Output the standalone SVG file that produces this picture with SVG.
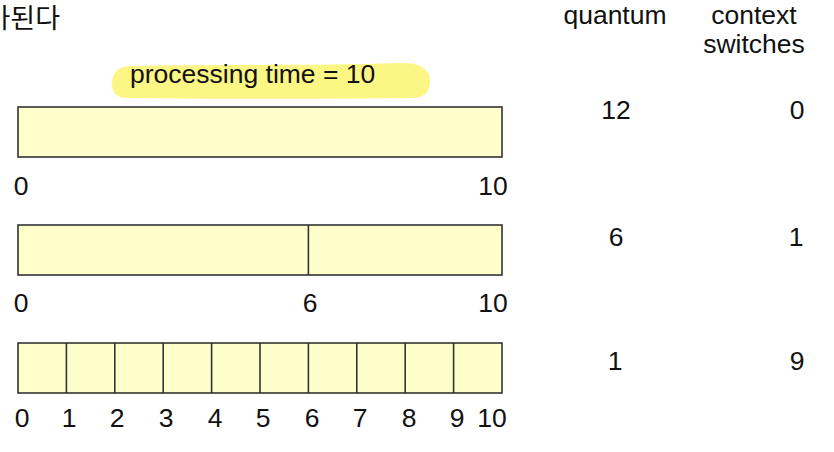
<svg xmlns="http://www.w3.org/2000/svg" width="834" height="452" viewBox="0 0 834 452">
<style>
text{font-family:"Liberation Sans","Noto Sans CJK KR",sans-serif;font-size:26.5px;fill:#111}
.c{text-anchor:middle}
.bar{fill:#ffffcc;stroke:#333;stroke-width:1.6}
.div{stroke:#333;stroke-width:1.6}
.hl{fill:#fcf684}
</style>
<rect width="834" height="452" fill="#fff"/>
<g id="heading">
<text x="-14.5" y="28" style="font-family:'Noto Sans CJK KR',sans-serif;font-size:27px">가된다</text>
</g>
<g id="header">
<text class="c" x="615" y="24">quantum</text>
<text class="c" x="754" y="24">context</text>
<text class="c" x="754" y="53">switches</text>
</g>
<g id="label">
<path class="hl" d="M112,84 C112,72 118,67 130,66 C200,64 320,66 400,63 C420,62 431,70 430,82 C429,94 424,98 410,98 C320,99 200,99 125,98 C116,97 112,92 112,84 Z"/>
<text x="130" y="83">processing time = 10</text>
</g>
<g id="row1">
<rect class="bar" x="18" y="107" width="484" height="50"/>
<text class="c" x="21" y="195">0</text>
<text class="c" x="493" y="195">10</text>
<text class="c" x="616" y="119">12</text>
<text class="c" x="797" y="119">0</text>
</g>
<g id="row2">
<rect class="bar" x="18" y="225" width="484" height="50"/>
<line class="div" x1="308.4" y1="225" x2="308.4" y2="275"/>
<text class="c" x="21" y="312">0</text>
<text class="c" x="310" y="312">6</text>
<text class="c" x="493" y="312">10</text>
<text class="c" x="616" y="246">6</text>
<text class="c" x="796" y="246">1</text>
</g>
<g id="row3">
<rect class="bar" x="18" y="343" width="484" height="50"/>
<g class="div">
<line x1="66.4" y1="343" x2="66.4" y2="393"/>
<line x1="114.8" y1="343" x2="114.8" y2="393"/>
<line x1="163.2" y1="343" x2="163.2" y2="393"/>
<line x1="211.6" y1="343" x2="211.6" y2="393"/>
<line x1="260" y1="343" x2="260" y2="393"/>
<line x1="308.4" y1="343" x2="308.4" y2="393"/>
<line x1="356.8" y1="343" x2="356.8" y2="393"/>
<line x1="405.2" y1="343" x2="405.2" y2="393"/>
<line x1="453.6" y1="343" x2="453.6" y2="393"/>
</g>
<text class="c" x="22" y="427">0</text>
<text class="c" x="69" y="427">1</text>
<text class="c" x="117" y="427">2</text>
<text class="c" x="166" y="427">3</text>
<text class="c" x="215" y="427">4</text>
<text class="c" x="263" y="427">5</text>
<text class="c" x="312" y="427">6</text>
<text class="c" x="360" y="427">7</text>
<text class="c" x="409" y="427">8</text>
<text class="c" x="457" y="427">9</text>
<text class="c" x="492" y="427">10</text>
<text class="c" x="615" y="370">1</text>
<text class="c" x="797" y="370">9</text>
</g>
<g id="connectors"></g>
</svg>
